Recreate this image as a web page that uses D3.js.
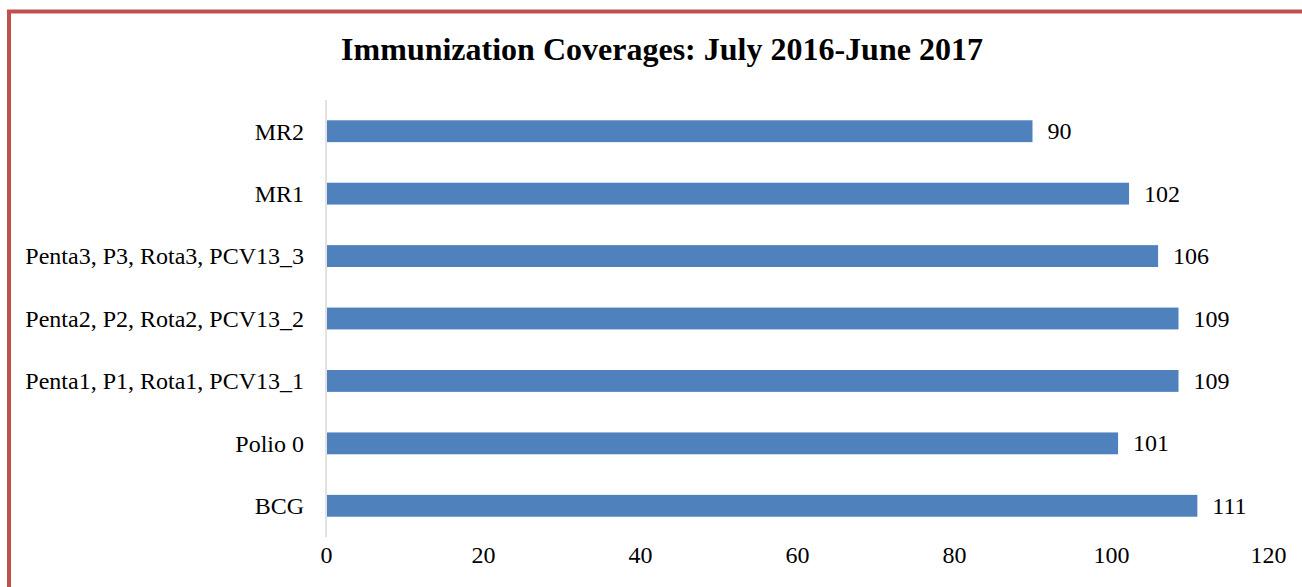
<!DOCTYPE html>
<html>
<head>
<meta charset="utf-8">
<script src="https://cdn.jsdelivr.net/npm/d3@7/dist/d3.min.js"></script>
<style>
  html, body { margin: 0; padding: 0; background: #fff; overflow: hidden; }
  svg { display: block; }
</style>
</head>
<body>
<svg id="chart" width="1302" height="587"></svg>
<script>
const title = "Immunization Coverages: July 2016-June 2017";
const categories = ["MR2", "MR1", "Penta3, P3, Rota3, PCV13_3", "Penta2, P2, Rota2, PCV13_2", "Penta1, P1, Rota1, PCV13_1", "Polio 0", "BCG"];
const values = [90, 102.3, 106, 108.6, 108.6, 100.9, 111];
const xTicks = [0, 20, 40, 60, 80, 100, 120];

const svg = d3.select("#chart");
const font = "'Liberation Serif', 'Times New Roman', serif";

// frame border
svg.append("rect")
  .attr("x", 9).attr("y", 11.5)
  .attr("width", 1400).attr("height", 700)
  .attr("fill", "none")
  .attr("stroke", "#C0504D")
  .attr("stroke-width", 4);

svg.append("text")
  .attr("x", 662).attr("y", 60)
  .attr("text-anchor", "middle")
  .attr("font-family", font)
  .attr("font-weight", "bold")
  .attr("font-size", 32)
  .attr("fill", "#000")
  .text(title);

const x = d3.scaleLinear().domain([0, 120]).range([326, 1268]);
const y = d3.scaleBand().domain(categories).range([100, 537])
  .paddingInner(0.65).paddingOuter(0.325);

// vertical axis line
svg.append("line")
  .attr("x1", x(0)).attr("x2", x(0))
  .attr("y1", 100).attr("y2", 537)
  .attr("stroke", "#D9D9D9").attr("stroke-width", 1.5);

// bars
svg.append("g").selectAll("rect")
  .data(categories)
  .join("rect")
  .attr("x", x(0) + 1)
  .attr("y", d => y(d))
  .attr("width", (d, i) => x(values[i]) - x(0) - 1)
  .attr("height", y.bandwidth())
  .attr("fill", "#4F81BD");

// value labels
svg.append("g").selectAll("text")
  .data(categories)
  .join("text")
  .attr("x", (d, i) => x(values[i]) + 15)
  .attr("y", d => y(d) + y.bandwidth() / 2 + 8)
  .attr("font-family", font)
  .attr("font-size", 24)
  .attr("fill", "#000")
  .text((d, i) => d3.format(".0f")(values[i]));

// category axis
const yAxis = d3.axisLeft(y).tickSize(0).tickPadding(22);
const gy = svg.append("g").attr("transform", `translate(${x(0)},0)`).call(yAxis);
gy.select(".domain").remove();
gy.selectAll("text")
  .attr("font-family", font)
  .attr("font-size", 24)
  .attr("fill", "#000")
  .attr("dy", "0.35em");

// value axis
const xAxis = d3.axisBottom(x).tickValues(xTicks).tickSize(0).tickPadding(0).tickFormat(d3.format("d"));
const gx = svg.append("g").attr("transform", "translate(0,546)").call(xAxis);
gx.select(".domain").remove();
gx.selectAll("text")
  .attr("font-family", font)
  .attr("font-size", 24)
  .attr("fill", "#000")
  .attr("dy", "0.71em");
</script>
</body>
</html>
